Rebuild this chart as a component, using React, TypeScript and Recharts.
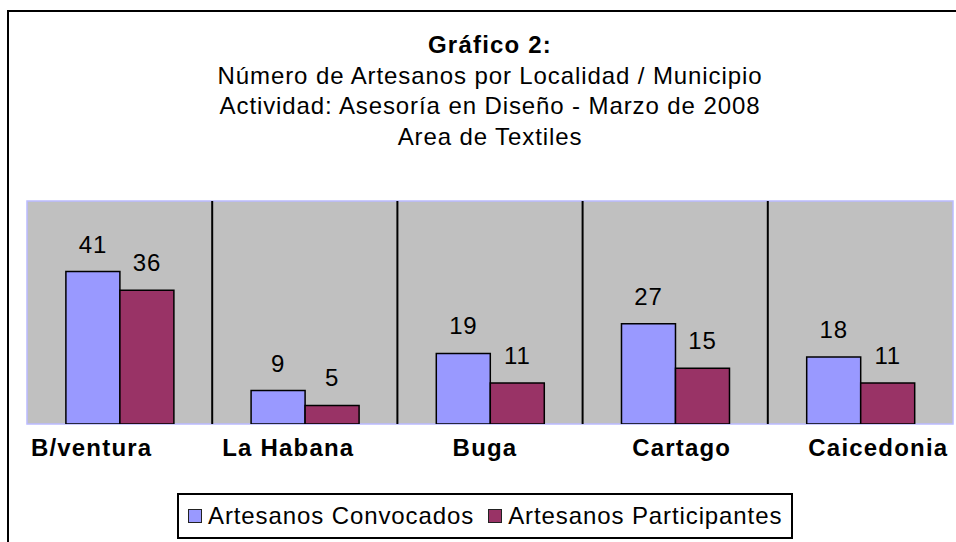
import { BarChart, Bar, XAxis, YAxis, CartesianGrid, Legend, LabelList, ReferenceLine, ReferenceArea } from "recharts";

const localidades = ["B/ventura", "La Habana", "Buga", "Cartago", "Caicedonia"];
const convocados = [41, 9, 19, 27, 18];
const participantes = [36, 5, 11, 15, 11];

const titulo = "Gráfico 2:";
const subtitulos = [
  "Número de Artesanos por Localidad / Municipio",
  "Actividad: Asesoría en Diseño - Marzo de 2008",
  "Area de Textiles",
];

const series = [
  { key: "convocados", name: "Artesanos Convocados", color: "#9999FF" },
  { key: "participantes", name: "Artesanos Participantes", color: "#993366" },
];

const data = localidades.map((name, i) => ({
  name,
  convocados: convocados[i],
  participantes: participantes[i],
}));

const FONT = '"Liberation Sans", Arial, sans-serif';

// excel spreads the category labels a bit wider than the bands
function CategoryTick({ x, y, payload }: any) {
  const cx = 485 + (x - 490) * 1.062;
  return (
    <text
      x={cx}
      y={y + 24}
      textAnchor="middle"
      fontFamily={FONT}
      fontSize={24}
      fontWeight="bold"
      letterSpacing={1.2}
      fill="#000"
    >
      {payload.value}
    </text>
  );
}

function LegendBox() {
  return (
    <div
      style={{
        border: "2px solid #000",
        height: 46,
        display: "flex",
        alignItems: "center",
        paddingLeft: 9,
        fontFamily: FONT,
        fontSize: 24,
        letterSpacing: 0.9,
        background: "#fff",
        boxSizing: "border-box",
        whiteSpace: "nowrap",
      }}
    >
      {series.map((s, i) => (
        <span key={s.key} style={{ display: "flex", alignItems: "center", marginLeft: i ? 14 : 0 }}>
          <span
            style={{
              width: 12,
              height: 12,
              background: s.color,
              border: "1.5px solid #222",
              display: "inline-block",
              marginRight: 6,
            }}
          />
          {s.name}
        </span>
      ))}
    </div>
  );
}

export default function App() {
  return (
    <div style={{ position: "fixed", left: 0, top: 0, width: 956, height: 542, overflow: "hidden", background: "#fff" }}>
      <div
        style={{
          position: "absolute",
          left: 7,
          top: 10,
          width: 1000,
          height: 600,
          borderLeft: "2px solid #000",
          borderTop: "2px solid #000",
        }}
      />
      <div
        style={{
          position: "absolute",
          left: 27,
          top: 30,
          width: 926,
          textAlign: "center",
          fontFamily: FONT,
          fontSize: 24,
          letterSpacing: 0.9,
          lineHeight: "30.5px",
          color: "#000",
        }}
      >
        <div style={{ fontWeight: "bold", letterSpacing: 1.2 }}>{titulo}</div>
        {subtitulos.map((t) => (
          <div key={t}>{t}</div>
        ))}
      </div>
      <div style={{ position: "absolute", left: 0, top: 0 }}>
        <BarChart
          width={956}
          height={542}
          data={data}
          margin={{ top: 201, right: 3, left: 27, bottom: 3 }}
          barGap={0}
          barCategoryGap="21%"
        >
          <CartesianGrid fill="#C0C0C0" horizontal={false} vertical={false} />
          <XAxis
            dataKey="name"
            height={69}
            axisLine={false}
            tickLine={false}
            interval={0}
            tick={<CategoryTick />}
          />
          <YAxis hide domain={[0, 60]} allowDataOverflow />
          <ReferenceArea
            x1={localidades[0]}
            x2={localidades[localidades.length - 1]}
            y1={0}
            y2={60}
            fill="none"
            fillOpacity={0}
            stroke="#BBBBFF"
            strokeWidth={1.5}
            ifOverflow="visible"
          />
          {localidades.slice(0, -1).map((c) => (
            <ReferenceLine key={c} x={c} position="end" stroke="#000" strokeWidth={2} />
          ))}
          {series.map((s) => (
            <Bar
              key={s.key}
              dataKey={s.key}
              name={s.name}
              fill={s.color}
              stroke="#000"
              strokeWidth={1.5}
              isAnimationActive={false}
            >
              <LabelList
                dataKey={s.key}
                position="top"
                offset={19}
                fontFamily={FONT}
                fontSize={24}
                letterSpacing={0.8}
                fill="#000"
              />
            </Bar>
          ))}
          <Legend
            verticalAlign="bottom"
            height={46}
            wrapperStyle={{ left: 177, width: 616, bottom: 3 }}
            content={<LegendBox />}
          />
        </BarChart>
      </div>
    </div>
  );
}
